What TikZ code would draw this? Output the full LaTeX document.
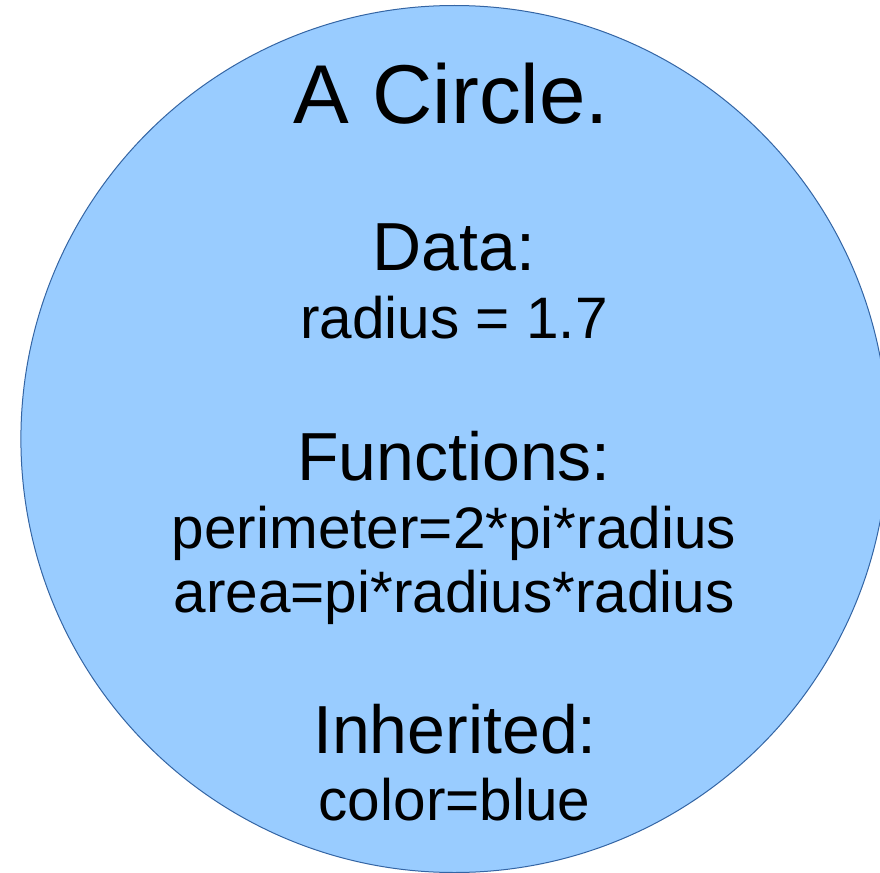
\documentclass[tikz,border=0pt]{standalone}
\usepackage{fontspec}
\setmainfont{Liberation Sans}
\definecolor{fillblue}{HTML}{99CCFF}
\definecolor{edgeblue}{RGB}{52,101,164}
\begin{document}
\begin{tikzpicture}[x=1pt,y=-1pt,
  titletxt/.style={anchor=base,inner sep=0pt,font=\fontsize{83.5}{96}\selectfont},
  headtxt/.style={anchor=base,inner sep=0pt,font=\fontsize{68}{78}\selectfont},
  bodytxt/.style={anchor=base,inner sep=0pt,font=\fontsize{58.5}{66}\selectfont}]
\clip (0,0) rectangle (880,872);
\fill[white] (0,0) rectangle (880,872);
\node[circle,draw=edgeblue,fill=fillblue,line width=1pt,minimum size=867pt,inner sep=0pt] (shape) at (454.4,439) {};
\node[titletxt] (title) at (451.5,124) {A Circle.};
\node[headtxt] (data) at (454,270) {Data:};
\node[bodytxt] (radius) at (454,338) {radius = 1.7};
\node[headtxt] (funcs) at (454,480) {Functions:};
\node[bodytxt] (perim) at (454,548) {perimeter=2*pi*radius};
\node[bodytxt] (area) at (454,612) {area=pi*radius*radius};
\node[headtxt] (inher) at (455,753) {Inherited:};
\node[bodytxt] (colr) at (454.5,820) {color=blue};
\end{tikzpicture}
\end{document}
